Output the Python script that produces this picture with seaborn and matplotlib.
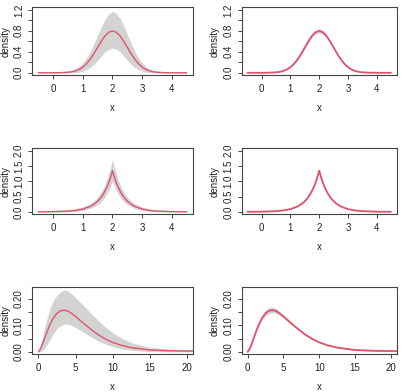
import matplotlib
matplotlib.use("Agg")
import matplotlib.pyplot as plt
import seaborn as sns

# ---------------- data ----------------
x_norm = [-0.5, 0.0, 0.25, 0.5, 0.625, 0.75, 0.875, 1.0, 1.125, 1.25, 1.375, 1.5, 1.625, 1.75, 1.875, 2.0,
          2.125, 2.25, 2.375, 2.5, 2.625, 2.75, 2.875, 3.0, 3.125, 3.25, 3.375, 3.5, 3.75, 4.0, 4.5]
red_norm = [0.000, 0.000, 0.002, 0.009, 0.018, 0.035, 0.064, 0.108, 0.173, 0.259, 0.365, 0.484, 0.602, 0.704, 0.773, 0.798,
            0.773, 0.704, 0.602, 0.484, 0.365, 0.259, 0.173, 0.108, 0.064, 0.035, 0.018, 0.009, 0.002, 0.000, 0.000]
hi_norm_left = [0.012, 0.014, 0.020, 0.035, 0.050, 0.075, 0.120, 0.190, 0.280, 0.400, 0.550, 0.720, 0.880, 1.020, 1.120, 1.170,
                1.130, 1.040, 0.900, 0.730, 0.560, 0.410, 0.280, 0.190, 0.120, 0.075, 0.050, 0.035, 0.020, 0.014, 0.012]
lo_norm_left = [0.0, 0.0, 0.0, 0.0, 0.0, 0.0, 0.010, 0.030, 0.060, 0.100, 0.160, 0.240, 0.320, 0.400, 0.450, 0.470,
                0.450, 0.400, 0.320, 0.240, 0.160, 0.100, 0.060, 0.030, 0.010, 0.0, 0.0, 0.0, 0.0, 0.0, 0.0]
hi_norm_right = [0.004, 0.005, 0.006, 0.015, 0.025, 0.043, 0.072, 0.118, 0.186, 0.276, 0.386, 0.510, 0.632, 0.738, 0.810, 0.836,
                 0.810, 0.738, 0.632, 0.510, 0.386, 0.276, 0.186, 0.118, 0.072, 0.043, 0.025, 0.015, 0.006, 0.005, 0.004]
lo_norm_right = [0.0, 0.0, 0.0, 0.005, 0.013, 0.030, 0.057, 0.100, 0.162, 0.245, 0.346, 0.461, 0.574, 0.672, 0.738, 0.762,
                 0.738, 0.672, 0.574, 0.461, 0.346, 0.245, 0.162, 0.100, 0.057, 0.030, 0.013, 0.005, 0.0, 0.0, 0.0]

x_lap = [-0.5, 0.0, 0.5, 0.75, 1.0, 1.25, 1.4, 1.5, 1.6, 1.7, 1.8, 1.85, 1.9, 1.95, 2.0,
         2.05, 2.1, 2.15, 2.2, 2.3, 2.4, 2.5, 2.6, 2.75, 3.0, 3.25, 3.5, 4.0, 4.5]
red_lap = [0.002, 0.006, 0.023, 0.046, 0.091, 0.178, 0.267, 0.349, 0.458, 0.600, 0.787, 0.900, 1.031, 1.180, 1.350,
           1.180, 1.031, 0.900, 0.787, 0.600, 0.458, 0.349, 0.267, 0.178, 0.091, 0.046, 0.023, 0.006, 0.002]
hi_lap_left = [0.030, 0.045, 0.070, 0.100, 0.160, 0.270, 0.380, 0.480, 0.610, 0.790, 1.030, 1.170, 1.330, 1.520, 1.720,
               1.520, 1.330, 1.170, 1.030, 0.790, 0.610, 0.480, 0.380, 0.270, 0.160, 0.100, 0.065, 0.040, 0.030]
lo_lap_left = [0.0, 0.0, 0.0, 0.015, 0.050, 0.115, 0.180, 0.240, 0.320, 0.430, 0.570, 0.660, 0.760, 0.880, 1.000,
               0.880, 0.760, 0.660, 0.570, 0.430, 0.320, 0.240, 0.180, 0.115, 0.050, 0.015, 0.0, 0.0, 0.0]
hi_lap_right = [0.010, 0.014, 0.032, 0.055, 0.102, 0.191, 0.283, 0.367, 0.480, 0.626, 0.819, 0.935, 1.070, 1.223, 1.398,
                1.223, 1.070, 0.935, 0.819, 0.626, 0.480, 0.367, 0.283, 0.191, 0.102, 0.055, 0.032, 0.014, 0.010]
lo_lap_right = [0.0, 0.0, 0.016, 0.039, 0.082, 0.167, 0.253, 0.333, 0.438, 0.576, 0.757, 0.867, 0.994, 1.139, 1.303,
                1.139, 0.994, 0.867, 0.757, 0.576, 0.438, 0.333, 0.253, 0.167, 0.082, 0.039, 0.016, 0.0, 0.0]

x_gam = [0, 0.25, 0.5, 0.75, 1, 1.5, 2, 2.5, 3, 3.5, 4, 4.5, 5, 6, 7, 8, 9, 10, 11, 12.5, 15, 17.5, 20, 20.8]
red_gam = [0.0, 0.010, 0.026, 0.045, 0.064, 0.100, 0.128, 0.146, 0.156, 0.158, 0.154, 0.145, 0.134, 0.110, 0.087, 0.066,
           0.049, 0.036, 0.026, 0.016, 0.007, 0.004, 0.003, 0.003]
hi_gam_left = [0.005, 0.025, 0.050, 0.080, 0.110, 0.160, 0.195, 0.215, 0.228, 0.235, 0.230, 0.220, 0.205, 0.178, 0.148, 0.120,
               0.095, 0.072, 0.055, 0.035, 0.017, 0.011, 0.009, 0.009]
lo_gam_left = [0.0, 0.0, 0.004, 0.010, 0.020, 0.045, 0.070, 0.088, 0.100, 0.105, 0.105, 0.100, 0.092, 0.075, 0.058, 0.042,
               0.030, 0.020, 0.013, 0.006, 0.001, 0.0, 0.0, 0.0]
hi_gam_right = [0.002, 0.014, 0.031, 0.050, 0.069, 0.106, 0.136, 0.158, 0.168, 0.169, 0.164, 0.152, 0.140, 0.115, 0.091, 0.070,
                0.052, 0.039, 0.029, 0.018, 0.009, 0.006, 0.005, 0.005]
lo_gam_right = [0.0, 0.006, 0.021, 0.040, 0.059, 0.094, 0.120, 0.136, 0.145, 0.148, 0.145, 0.138, 0.128, 0.105, 0.083, 0.062,
                0.046, 0.033, 0.023, 0.014, 0.005, 0.002, 0.001, 0.001]

# ---------------- style ----------------
sns.set_style("white")
plt.rcParams['font.family'] = ['Liberation Sans', 'DejaVu Sans']

RED = "#DF536B"
GRAY = "#D3D3D3"
FRAME = "#444444"
TXT = "#222222"

fig = plt.figure(figsize=(4.07, 3.92), dpi=100)

W, H = 407.0, 392.0
cols = [(32.3, 192.7), (241.7, 396.7)]
ylab_x = [6.0, 215.0]
rows = [(7.3, 75.3), (148.3, 214.3), (287.3, 354.3)]

panels = [
    (x_norm, red_norm, hi_norm_left, lo_norm_left, hi_norm_right, lo_norm_right,
     (-0.7, 4.7), [0, 1, 2, 3, 4], ['0', '1', '2', '3', '4'],
     (-0.048, 1.248), [0, 0.2, 0.4, 0.6, 0.8, 1.0, 1.2], ['0.0', '', '0.4', '', '0.8', '', '1.2']),
    (x_lap, red_lap, hi_lap_left, lo_lap_left, hi_lap_right, lo_lap_right,
     (-0.7, 4.7), [0, 1, 2, 3, 4], ['0', '1', '2', '3', '4'],
     (-0.08, 2.08), [0, 0.5, 1.0, 1.5, 2.0], ['0.0', '0.5', '1.0', '1.5', '2.0']),
    (x_gam, red_gam, hi_gam_left, lo_gam_left, hi_gam_right, lo_gam_right,
     (-0.83, 20.8), [0, 5, 10, 15, 20], ['0', '5', '10', '15', '20'],
     (-0.0094, 0.2445), [0, 0.05, 0.10, 0.15, 0.20], ['0.00', '', '0.10', '', '0.20']),
]

for r, (xs, red, hiL, loL, hiR, loR, xlim, xt, xtl, ylim, yt, ytl) in enumerate(panels):
    for c in range(2):
        x0, x1 = cols[c]
        y0, y1 = rows[r]
        ax = fig.add_axes([x0 / W, 1 - y1 / H, (x1 - x0) / W, (y1 - y0) / H])
        hi, lo = (hiL, loL) if c == 0 else (hiR, loR)
        ax.fill_between(xs, lo, hi, color=GRAY, linewidth=0)
        sns.lineplot(x=xs, y=red, ax=ax, color=RED, linewidth=1.0 if c == 0 else 1.3)
        ax.set_xlim(*xlim)
        ax.set_ylim(*ylim)
        ax.set_xticks(xt)
        ax.set_xticklabels(xtl)
        ax.set_yticks(yt)
        ax.set_yticklabels(ytl, rotation=90, va='center')
        ax.tick_params(axis='both', direction='out', length=3, width=0.7,
                       color=FRAME, labelsize=7, labelcolor=TXT,
                       bottom=True, left=True, top=False, right=False)
        ax.tick_params(axis='x', pad=3)
        ax.tick_params(axis='y', pad=3)
        for s in ax.spines.values():
            s.set_color(FRAME)
            s.set_linewidth(0.8)
        ax.set_xlabel('x', fontsize=7, color=TXT)
        ax.set_ylabel('density', fontsize=7, color=TXT, va='center')
        ax.xaxis.set_label_coords(0.5, -28.0 / (y1 - y0), transform=ax.transAxes)
        ax.yaxis.set_label_coords(-(x0 - ylab_x[c]) / (x1 - x0), 0.5, transform=ax.transAxes)
        ax.grid(False)

fig.savefig("out.png", dpi=100)
